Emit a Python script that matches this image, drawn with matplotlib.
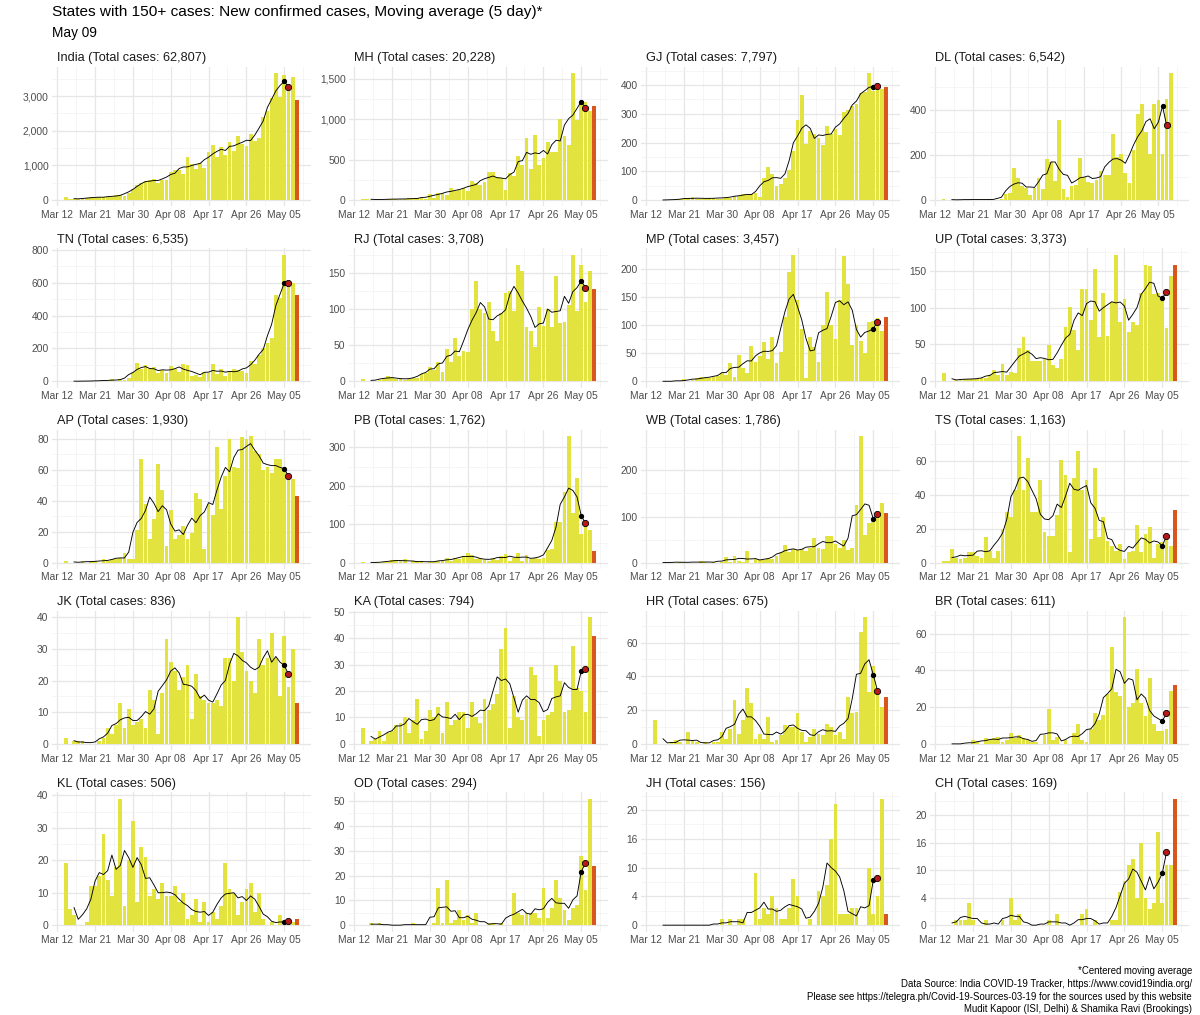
import numpy as np
import pandas as pd
import matplotlib
matplotlib.use('Agg')
import matplotlib.pyplot as plt
import matplotlib.dates as mdates
from matplotlib.ticker import FuncFormatter, FixedLocator

plt.rcParams['font.family'] = ['Liberation Sans', 'DejaVu Sans']

# daily new cases from Mar 14 (one value per day)
start = '2020-03-14'

india = [81,27,15,37,27,58,78,69,94,74, 86,73,153,136,120,187,309,424,486,560,
         579,609,484,573,565,813,871,854,758,1243, 1031,886,1061,922,1371,1580,1239,1537,1292,1667,
         1408,1835,1607,1568,1902,1705,1801,2396,2564,2952, 3656,2971,3602,3344,3550,2880]
mh = [14,18,2,3,4,5,12,11,10,15, 6,20,12,22,25,12,80,30,82,88,
      67,145,113,120,150,117,229,210,187,221, 352,350,290,270,120,330,300,550,430,770,
      390,810,430,520,720,590,590,1010,790,680, 1570,990,1230,1210,1100,1160]
gj = [0,0,0,0,0,2,3,2,7,11, 4,4,5,6,8,5,5,10,8,13,
      14,20,18,20,25,10,75,116,91,48, 56,78,104,170,277,367,196,239,229,217,
      191,256,230,247,226,308,313,326,333,374, 376,441,380,390,388,394]
dl = [5,0,0,1,1,2,1,3,1,2, 2,3,1,1,4,25,30,140,95,60,
      55,22,55,95,50,180,170,85,355,50, 15,60,65,185,100,80,75,90,130,110,
      110,290,190,205,120,75,220,380,425,300, 205,425,440,205,445,560,0]
tn = [1,0,0,1,1,0,3,1,3,6, 3,11,3,12,8,17,57,110,75,102,
      74,86,50,69,48,96,77,58,106,98, 31,38,25,56,49,105,43,76,33,54,
      72,66,64,52,121,104,161,203,231,266, 527,508,771,580,600,526]
rj = [3,0,1,0,2,5,7,6,3,4, 2,3,5,4,10,12,20,15,27,13,
      45,27,60,35,42,40,100,139,100,95, 110,70,55,95,122,125,97,160,152,75,
      70,48,102,77,100,75,145,80,82,105, 175,97,160,110,152,128]
mp = [0,0,0,0,0,0,0,4,0,2, 6,7,5,6,8,10,15,12,32,8,
      47,24,14,63,34,45,70,40,78,32, 52,115,195,225,145,92,5,78,60,35,
      100,158,100,75,145,222,173,65,100,72, 50,105,107,113,90,115]
up = [11,0,1,2,3,3,3,3,3,4, 5,8,15,8,23,8,12,11,45,60,
      43,27,27,27,30,49,22,18,30,74, 101,70,43,125,125,83,152,60,120,61,
      107,172,80,112,67,80,76,120,158,157, 118,120,112,72,143,158]
ap = [1,0,0,0,1,0,1,1,0,2, 1,2,2,3,6,2,2,21,67,38,
      15,28,64,47,11,34,15,18,24,15, 19,45,41,9,38,31,75,35,56,80,
      62,61,81,80,82,72,70,60,62,58, 67,67,60,56,54,43]
pb = [1,0,0,1,0,1,2,6,7,5, 8,0,4,5,3,0,1,2,5,3,
      11,5,12,8,17,24,20,9,12,6, 5,12,7,18,23,5,13,24,5,20,
      9,13,8,11,33,35,105,105,185,330, 130,220,75,100,86,30]
wb = [0,0,0,0,1,0,1,2,0,0, 0,3,2,0,1,0,1,12,2,14,
      3,2,25,0,8,5,5,10,8,15, 22,38,24,30,27,30,25,32,53,32,
      30,57,57,40,32,48,28,32,125,275, 60,85,92,110,130,107]
ts = [1,1,8,3,2,3,6,6,4,3, 15,7,3,7,20,30,27,43,75,43,
      62,30,30,49,18,16,16,28,61,52, 6,50,66,43,49,14,56,15,27,13,
      10,7,11,2,6,7,22,6,17,21, 3,11,12,14,10,31]
jk = [2,0,1,1,1,0,0,0,1,2, 5,3,6,13,5,11,6,7,8,5,
      17,14,3,16,33,26,23,17,21,25, 8,22,15,14,13,13,14,12,27,27,
      20,40,29,23,20,16,33,25,27,35, 27,15,34,18,30,13]
ka = [6,0,1,2,5,1,4,5,7,8, 10,4,9,17,2,5,13,10,14,4,
      16,7,9,12,12,6,16,10,8,17, 13,15,19,36,44,6,18,10,9,17,
      29,26,3,9,11,12,30,24,12,13, 37,21,20,12,48,41]
hr = [14,0,0,0,1,2,1,0,7,2, 1,0,1,0,1,1,7,3,9,26,
      6,14,33,24,3,6,3,16,1,2, 5,11,10,10,18,7,1,4,9,6,
      5,12,10,5,7,3,28,18,19,66, 75,31,46,31,22,28]
br = [0,0,0,0,0,0,0,2,1,0, 3,2,3,4,1,2,6,3,5,3,
      2,1,1,0,5,19,2,4,0,2, 0,6,11,2,1,8,17,13,16,27,
      53,28,26,69,20,22,41,22,15,36, 11,7,7,8,29,32]
kl = [19,5,3,0,0,1,12,12,15,28, 14,9,18,39,6,20,32,7,24,21,
      9,11,8,13,9,9,12,7,10,2, 3,8,1,7,1,4,2,6,19,11,
      10,3,7,11,13,4,10,2,0,1, 0,3,0,1,1,2]
od = [0,0,1,0,1,0,0,0,0,0, 0,0,1,0,0,0,0,1,15,1,
      18,1,2,6,2,4,1,5,0,0, 1,1,0,1,0,0,13,5,4,5,
      5,5,3,15,3,7,18,11,6,2, 7,8,28,14,51,24]
jh = [0,0,0,0,0,0,0,0,0,0, 0,0,0,0,0,0,1,0,1,0,
      1,1,0,0,9,1,3,2,5,3, 1,1,3,8,5,0,0,1,0,6,
      5,7,15,21,2,2,2,3,3,0, 0,10,2,5,22,2]
ch = [0,0,0,1,1,1,4,1,0,0, 1,0,0,0,1,0,5,1,2,0,
      0,0,0,0,0,1,0,2,0,0, 0,0,0,2,3,0,1,0,0,0,
      1,1,6,8,11,12,5,15,5,3, 4,17,4,11,11,23]

states = ['India', 'MH', 'GJ', 'DL', 'TN', 'RJ', 'MP', 'UP', 'AP', 'PB',
          'WB', 'TS', 'JK', 'KA', 'HR', 'BR', 'KL', 'OD', 'JH', 'CH']
totals = [62807, 20228, 7797, 6542, 6535, 3708, 3457, 3373, 1930, 1762,
          1786, 1163, 836, 794, 675, 611, 506, 294, 156, 169]
series = [india, mh, gj, dl, tn, rj, mp, up, ap, pb,
          wb, ts, jk, ka, hr, br, kl, od, jh, ch]
ysteps = [1000, 500, 100, 200, 200, 50, 50, 50, 20, 100,
          100, 20, 10, 10, 20, 20, 10, 10, 5, 5]

YEL = '#E3E33F'
ORG = '#D9571E'
RED = '#B81818'
W, H = 1200, 1015

fig = plt.figure(figsize=(12, 10.15), dpi=100)

fig.text(52/W, 1-12/H, 'States with 150+ cases: New confirmed cases, Moving average (5 day)*',
         fontsize=11.1, va='center', ha='left', color='black')
fig.text(52/W, 1-33/H, 'May 09', fontsize=9.8, va='center', ha='left', color='black')

caption = ['*Centered moving average',
           'Data Source: India COVID-19 Tracker, https://www.covid19india.org/',
           'Please see https://telegra.ph/Covid-19-Sources-03-19 for the sources used by this website',
           'Mudit Kapoor (ISI, Delhi) & Shamika Ravi (Brookings)']
for j, line in enumerate(caption):
    fig.text(1192/W, 1-(971+12.8*j)/H, line, fontsize=6.9, ha='right', va='center', color='black')

xticks = mdates.date2num(pd.date_range('2020-03-12', periods=7, freq='9D'))
xminor = np.concatenate([xticks + 4.5, [xticks[0] - 4.5]])

col_left = [52, 349, 641, 930]
pw, ph = 258.5, 139.3

fmt = FuncFormatter(lambda v, p: '{:,}'.format(int(2 * round(v / 2))))

for k, name in enumerate(states):
    r, c = divmod(k, 4)
    top = 67 + 181.3 * r
    ax = fig.add_axes([col_left[c]/W, 1-(top+ph)/H, pw/W, ph/H])
    v = np.array(series[k], dtype=float)
    x = mdates.date2num(pd.date_range(start, periods=len(v)))
    ma = pd.Series(v).rolling(5, center=True).mean().values

    ax.bar(x[:-1], v[:-1], width=0.9, color=YEL, zorder=2)
    ax.bar(x[-1:], v[-1:], width=0.9, color=ORG, zorder=2)
    ax.plot(x, ma, color='black', lw=0.65, zorder=3)
    ax.plot(x[-4], ma[-4], 'o', ms=2.8, color='black', zorder=4)
    ax.plot(x[-3], ma[-3], 'o', ms=4.5, mfc=RED, mec='black', mew=0.6, zorder=5)

    ymax = max(v.max(), np.nanmax(ma))
    ax.set_ylim(-0.05*ymax, 1.05*ymax)
    lo, hi = x[0] - 0.45, x[-1] + 0.45
    xpad = 0.05 * (hi - lo)
    ax.set_xlim(lo - xpad, hi + xpad)

    st = ysteps[k]
    ax.yaxis.set_major_locator(FixedLocator(np.arange(0, 1.05*ymax, st)))
    ax.yaxis.set_minor_locator(FixedLocator(np.arange(st/2, 1.05*ymax, st)))
    ax.yaxis.set_major_formatter(fmt)
    ax.xaxis.set_major_locator(FixedLocator(xticks))
    ax.xaxis.set_minor_locator(FixedLocator(xminor))
    ax.xaxis.set_major_formatter(mdates.DateFormatter('%b %d'))

    ax.grid(which='major', color='#E6E6E6', lw=0.9, zorder=0)
    ax.grid(which='minor', color='#F1F1F1', lw=0.5, zorder=0)
    ax.set_axisbelow(True)
    for s in ax.spines.values():
        s.set_visible(False)
    ax.tick_params(which='both', length=0, labelsize=7.4, colors='#4D4D4D', pad=2.5)

    fig.text((col_left[c] + 5)/W, 1-(top - 8.5)/H,
             '{} (Total cases: {:,})'.format(name, totals[k]),
             fontsize=9.2, ha='left', va='center', color='#1A1A1A')

fig.savefig('out.png', dpi=100)
